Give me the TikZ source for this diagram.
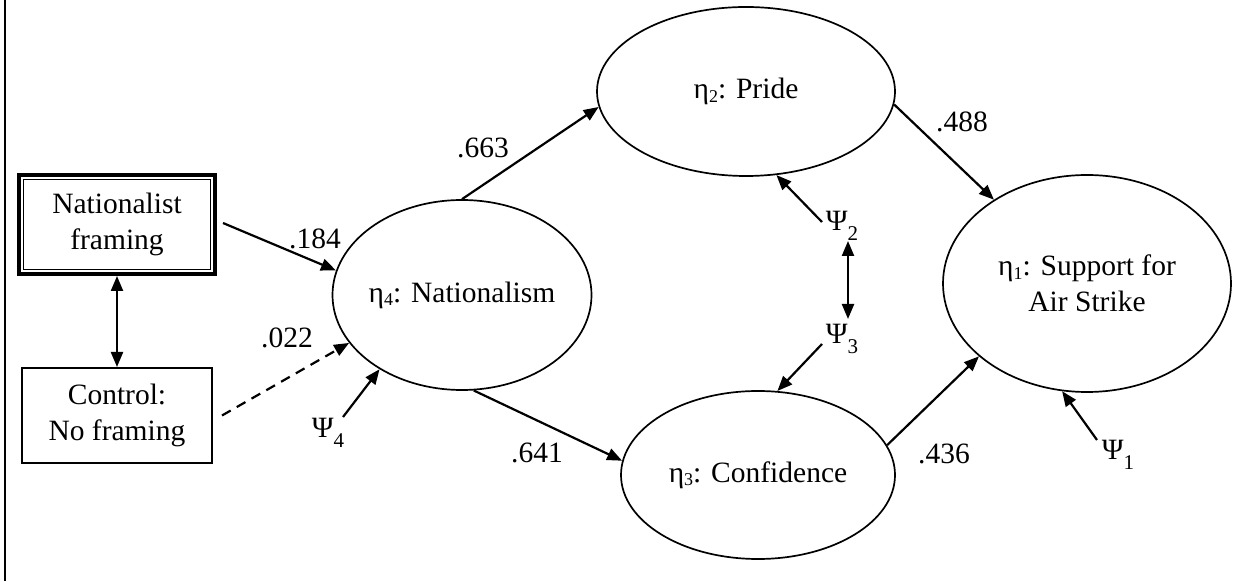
\documentclass[tikz,border=0pt]{standalone}
\usepackage{fontspec}
\setmainfont{Liberation Serif}
\usetikzlibrary{arrows.meta,shapes.geometric}
% subscripts for the latent variables and the disturbances
\newcommand\etasub[1]{\raisebox{-0.12em}{\fontsize{18}{18}\selectfont #1}}
\newcommand\psisub[1]{\raisebox{-0.32em}{\fontsize{21}{21}\selectfont #1}}

\begin{document}
\begin{tikzpicture}[x=1pt,y=1pt,
  every node/.style={font=\fontsize{29.5}{36}\selectfont, inner sep=0pt},
  latent/.style={draw, ellipse, line width=1.7pt},
  path/.style={line width=2.2pt, -{Triangle[length=15pt,width=12pt]}},
  both/.style={line width=2.2pt, {Triangle[length=15pt,width=12pt]}-{Triangle[length=15pt,width=12pt]}},
  weak/.style={path, dash pattern=on 10pt off 7pt}
]
\useasboundingbox (0,0) rectangle (1250,581);
\draw[line width=2pt] (5,0) -- (5,581);

% observed conditions
\node[draw, line width=4pt, minimum width=196pt, minimum height=99pt, align=center] (nat) at (117,356.5) {Nationalist\\framing};
\draw[line width=1pt] ([xshift=6.5pt,yshift=-6.5pt]nat.north west) rectangle ([xshift=-6.5pt,yshift=6.5pt]nat.south east);
\node[draw, line width=2pt, minimum width=190pt, minimum height=95pt, align=center] (ctrl) at (117,165.5) {Control:\\No framing};

% latent variables
\node[latent, minimum width=259pt, minimum height=190pt] (eta4) at (462,286) {\makebox[0pt]{η\etasub{4}: Nationalism}};
\node[latent, minimum width=298pt, minimum height=169pt] (pride) at (746,489.5) {η\etasub{2}: Pride};
\node[latent, minimum width=274pt, minimum height=168pt] (conf) at (758,106) {η\etasub{3}: Confidence};
\node[latent, minimum width=288pt, minimum height=217pt, align=center] (supp) at (1087,297.5) {η\etasub{1}: Support for\\Air Strike};

% disturbances
\node (psi4) at (328,148) {Ψ\psisub{4}};
\node (psi2) at (842,355) {Ψ\psisub{2}};
\node (psi3) at (842,242) {Ψ\psisub{3}};
\node (psi1) at (1118,126) {Ψ\psisub{1}};

% path coefficients
\node (w184) at (315,342) {.184};
\node (w022) at (287,243) {.022};
\node (w663) at (483,433) {.663};
\node (w641) at (537,128) {.641};
\node (w488) at (962,459) {.488};
\node (w436) at (944,127) {.436};

% structural paths
\draw[both] (nat.south) -- (ctrl.north);
\draw[path] ([xshift=6pt,yshift=1.5pt]nat.east) -- (eta4.169.6);
\draw[weak] ([xshift=9pt]ctrl.east) -- (eta4.203.5);
\draw[path] (eta4.90) -- (pride.186);
\draw[path] (eta4.277) -- (conf.174.7);
\draw[path] (pride.355) -- (supp.138.6);
\draw[path] (conf.13.4) -- (supp.214);

% disturbance paths
\draw[path] ([xshift=15pt,yshift=16pt]psi4.center) -- (eta4.222.4);
\draw[path] ([xshift=-20pt,yshift=4pt]psi2.center) -- (pride.290);
\draw[path] ([xshift=-20pt,yshift=-5pt]psi3.center) -- (conf.77);
\draw[path] ([xshift=-21pt,yshift=15pt]psi1.center) -- (supp.257.5);
\draw[both] ([xshift=6pt,yshift=-15pt]psi2.center) -- ([xshift=6pt,yshift=20pt]psi3.center);
\end{tikzpicture}
\end{document}
